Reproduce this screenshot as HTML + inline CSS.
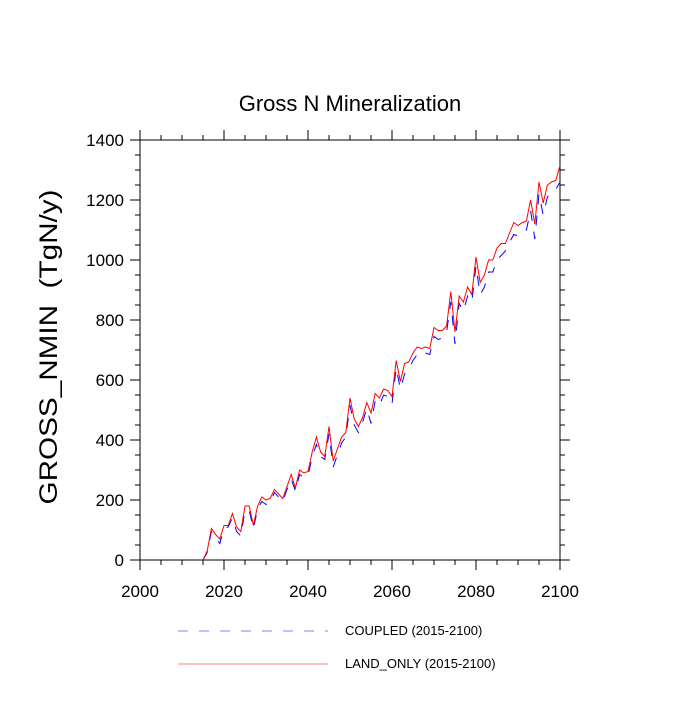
<!DOCTYPE html>
<html><head><meta charset="utf-8"><style>
body{margin:0;background:#fff;}
svg text{font-family:"Liberation Sans",sans-serif;}
</style></head><body>
<svg id="c" width="700" height="700" xmlns="http://www.w3.org/2000/svg">
<text x="350" y="111" font-size="22" text-anchor="middle">Gross N Mineralization</text>
<text transform="translate(57,347) rotate(-90)" font-size="25" text-anchor="middle" textLength="315" lengthAdjust="spacingAndGlyphs">GROSS_NMIN &#160;(TgN/y)</text>
<g id="ax"></g>
<g id="series"></g>
<g>
<line x1="178" y1="631" x2="328" y2="631" stroke="#8080ff" stroke-width="1" stroke-dasharray="10,11"/>
<text x="345" y="635" font-size="13">COUPLED (2015-2100)</text>
<line x1="178" y1="664" x2="328" y2="664" stroke="#ff8080" stroke-width="1"/>
<text x="345" y="668" font-size="13">LAND_ONLY (2015-2100)</text>
</g>
</svg>
<script>
const startYear = 2015;
const landOnly = [0,30,105,85,70,115,115,155,110,95,180,180,115,180,210,200,205,235,220,205,245,285,240,300,290,295,360,410,360,345,445,330,370,410,425,540,470,445,475,525,490,555,540,570,565,545,665,595,655,660,690,710,705,710,705,775,765,765,780,895,760,880,860,910,885,1010,925,950,1000,1000,1040,1055,1055,1090,1125,1115,1125,1130,1200,1120,1260,1190,1250,1260,1265,1315];
const coupled = [0,25,95,75,55,105,110,140,95,80,165,165,105,170,195,185,190,225,210,195,235,270,230,285,275,280,345,385,345,335,420,310,350,390,410,515,450,425,460,505,455,530,515,550,545,520,640,570,620,635,665,685,680,690,685,745,735,740,760,860,720,855,830,880,860,980,885,910,960,960,1000,1015,1030,1060,1085,1080,1095,1100,1165,1070,1220,1150,1210,1225,1235,1260];
const xTicks = [2000,2020,2040,2060,2080,2100];
const yTicks = [0,200,400,600,800,1000,1200,1400];
const L=140,R=560,T=140,B=560;
const xs=y=>L+(y-2000)*(R-L)/100;
const ys=v=>B-v*(B-T)/1400;
const NS="http://www.w3.org/2000/svg";
function mk(t,a,p){const e=document.createElementNS(NS,t);for(const k in a)e.setAttribute(k,a[k]);p.appendChild(e);return e;}
const ax=document.getElementById('ax');
const frame=mk('rect',{x:L,y:T,width:R-L,height:B-T,fill:'none',stroke:'#000','stroke-width':1},ax);


for(let y=2000;y<=2100;y+=5){const len=(y%20===0)?10:5;
 mk('line',{x1:xs(y),y1:B,x2:xs(y),y2:B+len,stroke:'#000'},ax);
 mk('line',{x1:xs(y),y1:T,x2:xs(y),y2:T-len,stroke:'#000'},ax);}
for(let v=0;v<=1400;v+=50){const len=(v%200===0)?10:5;
 mk('line',{x1:L,y1:ys(v),x2:L-len,y2:ys(v),stroke:'#000'},ax);
 mk('line',{x1:R,y1:ys(v),x2:R+len,y2:ys(v),stroke:'#000'},ax);}
xTicks.forEach(t=>{const e=mk('text',{x:xs(t),y:B+37,'font-size':17,'text-anchor':'middle'},ax);e.textContent=t;
 
 });
yTicks.forEach(t=>{const e=mk('text',{x:L-16,y:ys(t)+6,'font-size':17,'text-anchor':'end'},ax);e.textContent=t;
 
 });
const sg=document.getElementById('series');
function pts(arr){return arr.map((v,i)=>xs(startYear+i)+','+ys(v)).join(' ');}
const pc=mk('polyline',{points:pts(coupled),fill:'none',stroke:'#0000ff','stroke-width':1,'stroke-dasharray':'10,11'},sg);


const pl=mk('polyline',{points:pts(landOnly),fill:'none',stroke:'#ff0000','stroke-width':1},sg);


</script>
</body></html>
